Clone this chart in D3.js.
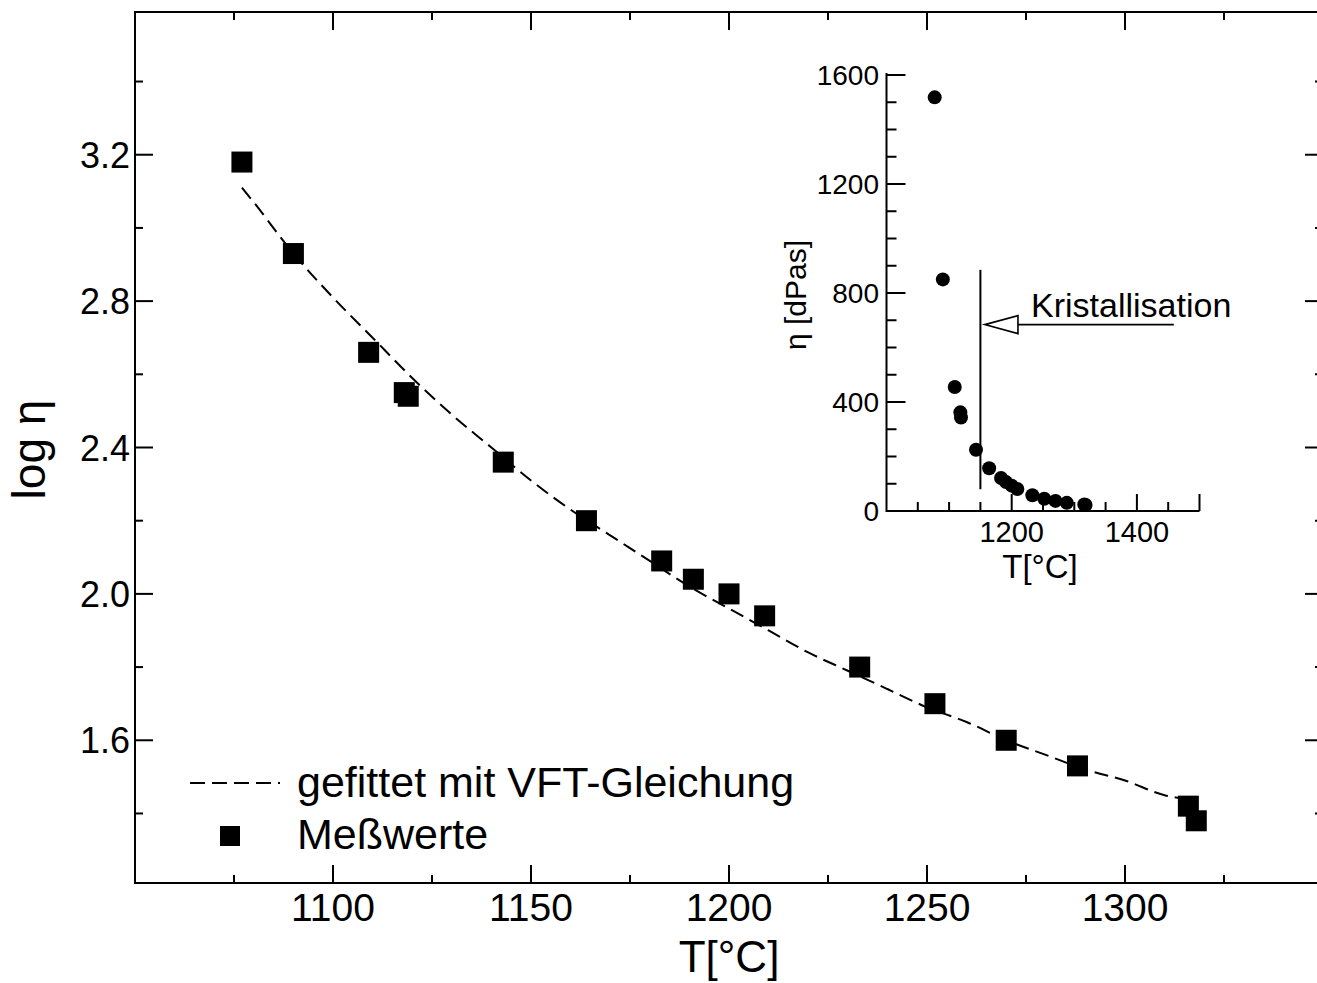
<!DOCTYPE html>
<html>
<head>
<meta charset="utf-8">
<script src="https://cdn.jsdelivr.net/npm/d3@7"></script>
<style>
  html, body { margin: 0; background: #fff; }
  svg { display: block; }
  text { font-family: "Liberation Sans", Arial, sans-serif; fill: #000; }
</style>
</head>
<body>
<div id="chart"></div>
<script>
// ---- Data ----
// main plot: measured values
const tempC  = [1077, 1090, 1109, 1118, 1119, 1143, 1164, 1183, 1191, 1200, 1209, 1233, 1252, 1270, 1288, 1316, 1318];
const logEta = [3.18, 2.93, 2.66, 2.55, 2.54, 2.36, 2.20, 2.09, 2.04, 2.00, 1.94, 1.80, 1.70, 1.60, 1.53, 1.42, 1.38];

// main plot: VFT fit line
const fitT      = [1077, 1080, 1090, 1100, 1110, 1120, 1130, 1140, 1150, 1160, 1170, 1180, 1190, 1200, 1210, 1220, 1230, 1240, 1250, 1260, 1270, 1280, 1290, 1300, 1310, 1315];
const fitLogEta = [3.11, 3.07, 2.93, 2.81, 2.70, 2.59, 2.49, 2.40, 2.31, 2.23, 2.16, 2.09, 2.02, 1.96, 1.90, 1.84, 1.79, 1.74, 1.69, 1.65, 1.60, 1.56, 1.52, 1.49, 1.45, 1.44];

// inset: viscosity in dPas
const insetEta = [1518, 850, 455, 362, 343, 225, 157, 121, 106, 93, 81, 58, 45, 37, 30, 24, 22];

// ticks
const xMajor = [1100, 1150, 1200, 1250, 1300];
const xMinor = [1075, 1125, 1175, 1225, 1275, 1325];
const yMajor = [1.6, 2.0, 2.4, 2.8, 3.2];
const yMinor = [1.4, 1.8, 2.2, 2.6, 3.0, 3.4];
const insetXLabels = [1200, 1400];
const insetXMajor = [1200, 1400, 1500];
const insetXMinor = [1050, 1100, 1150, 1250, 1300, 1350, 1450];
const insetYMajor = [0, 400, 800, 1200, 1600];
const insetYMinor = [100, 200, 300, 500, 600, 700, 900, 1000, 1100, 1300, 1400, 1500];

// annotation
const crystT = 1150;
const crystEta = [80, 885];
const arrowEta = 684;
const arrowT = [1157, 1210, 1459];

const W = 1317, H = 983;
const svg = d3.select('#chart').append('svg').attr('width', W).attr('height', H);

function label(parent, x, y, str, size, anchor, rot) {
  return parent.append('text')
    .attr('transform', `translate(${x},${y})` + (rot ? ` rotate(${rot})` : ''))
    .attr('text-anchor', anchor || 'start')
    .attr('font-size', size + 'px')
    .text(str);
}

// ---- Main scales ----
const x = d3.scaleLinear().domain([1050, 1350]).range([135, 1323]);
const y = d3.scaleLinear().domain([1.21, 3.59]).range([883, 12]);

svg.append('path')
  .attr('d', `M${x(1050)},${y(3.59)}V${y(1.21)}H${x(1350)}V${y(3.59)}Z`)
  .attr('fill', 'none').attr('stroke', '#000').attr('stroke-width', 2);

// ticks on all four sides, pointing inward
const tk = svg.append('g').attr('stroke', '#000').attr('stroke-width', 2);
function xTick(v, len) {
  tk.append('line').attr('x1', x(v)).attr('x2', x(v)).attr('y1', y(1.21)).attr('y2', y(1.21) - len);
  tk.append('line').attr('x1', x(v)).attr('x2', x(v)).attr('y1', y(3.59)).attr('y2', y(3.59) + len);
}
function yTick(v, len) {
  tk.append('line').attr('x1', x(1050)).attr('x2', x(1050) + len).attr('y1', y(v)).attr('y2', y(v));
  tk.append('line').attr('x1', x(1350)).attr('x2', x(1350) - len).attr('y1', y(v)).attr('y2', y(v));
}
xMajor.forEach(v => xTick(v, 18));
xMinor.forEach(v => xTick(v, 8));
yMajor.forEach(v => yTick(v, 18));
yMinor.forEach(v => yTick(v, 8));

// tick labels
const gx = svg.append('g');
xMajor.forEach(v => label(gx, x(v), 921, v, 39, 'middle'));
const gy = svg.append('g');
yMajor.forEach(v => label(gy, 130, y(v) + 13, d3.format('.1f')(v), 36, 'end'));

// axis titles
label(svg, x(1200), 972, 'T[°C]', 44, 'middle');
label(svg, 45, y(2.4) + 2, 'log η', 46, 'middle', -90);

// ---- Fit line ----
const line = d3.line().x((d, i) => x(fitT[i])).y(d => y(d)).curve(d3.curveMonotoneX);
svg.append('path')
  .datum(fitLogEta)
  .attr('d', line)
  .attr('fill', 'none')
  .attr('stroke', '#000')
  .attr('stroke-width', 2)
  .attr('stroke-dasharray', '14,7');

// ---- Squares ----
const sq = 21;
svg.append('g').selectAll('rect').data(logEta).join('rect')
  .attr('x', (d, i) => x(tempC[i]) - sq / 2)
  .attr('y', d => y(d) - sq / 2)
  .attr('width', sq).attr('height', sq)
  .attr('fill', '#000');

// ---- Legend ----
svg.append('line')
  .attr('x1', 190).attr('x2', 280).attr('y1', 783).attr('y2', 783)
  .attr('stroke', '#000').attr('stroke-width', 2).attr('stroke-dasharray', '15,7');
label(svg, 297, 797, 'gefittet mit VFT-Gleichung', 43);
svg.append('rect').attr('x', 220).attr('y', 826).attr('width', 20).attr('height', 20).attr('fill', '#000');
label(svg, 297, 849, 'Meßwerte', 43);

// ---- Inset ----
const ix = d3.scaleLinear().domain([1000, 1500]).range([886.5, 1199.5]);
const iy = d3.scaleLinear().domain([0, 1600]).range([511, 75]);

const inset = svg.append('g');
inset.append('path')
  .attr('d', `M${ix(1000)},${iy(1600) - 2}V${iy(0)}H${ix(1500)}`)
  .attr('fill', 'none').attr('stroke', '#000').attr('stroke-width', 2);

const itk = inset.append('g').attr('stroke', '#000').attr('stroke-width', 2);
insetXMajor.forEach(v => itk.append('line').attr('x1', ix(v)).attr('x2', ix(v)).attr('y1', iy(0)).attr('y2', iy(0) - 17));
insetXMinor.forEach(v => itk.append('line').attr('x1', ix(v)).attr('x2', ix(v)).attr('y1', iy(0)).attr('y2', iy(0) - 9));
insetYMajor.forEach(v => itk.append('line').attr('x1', ix(1000)).attr('x2', ix(1000) + 19).attr('y1', iy(v)).attr('y2', iy(v)));
insetYMinor.forEach(v => itk.append('line').attr('x1', ix(1000)).attr('x2', ix(1000) + 10).attr('y1', iy(v)).attr('y2', iy(v)));

insetXLabels.forEach(v => label(inset, ix(v), 542, v, 29, 'middle'));
insetYMajor.forEach(v => label(inset, 879, iy(v) + 10, v, 28, 'end'));

label(inset, ix(1250) - 3, 578, 'T[°C]', 33, 'middle');
label(inset, 806, iy(800) + 2, 'η [dPas]', 30, 'middle', -90);

inset.append('g').selectAll('circle').data(insetEta).join('circle')
  .attr('cx', (d, i) => ix(tempC[i]))
  .attr('cy', d => iy(d))
  .attr('r', 7)
  .attr('fill', '#000');

// Kristallisation marker
inset.append('line')
  .attr('x1', ix(crystT)).attr('x2', ix(crystT))
  .attr('y1', iy(crystEta[0])).attr('y2', iy(crystEta[1]))
  .attr('stroke', '#000').attr('stroke-width', 2);

const ay = iy(arrowEta);
inset.append('line')
  .attr('x1', ix(arrowT[1])).attr('x2', ix(arrowT[2]))
  .attr('y1', ay).attr('y2', ay)
  .attr('stroke', '#000').attr('stroke-width', 1.6);
inset.append('path')
  .attr('d', `M${ix(arrowT[0])},${ay}L${ix(arrowT[1])},${ay - 9}L${ix(arrowT[1])},${ay + 9}Z`)
  .attr('fill', '#fff').attr('stroke', '#000').attr('stroke-width', 1.6);

label(inset, 1031, 317, 'Kristallisation', 34);
</script>
</body>
</html>
